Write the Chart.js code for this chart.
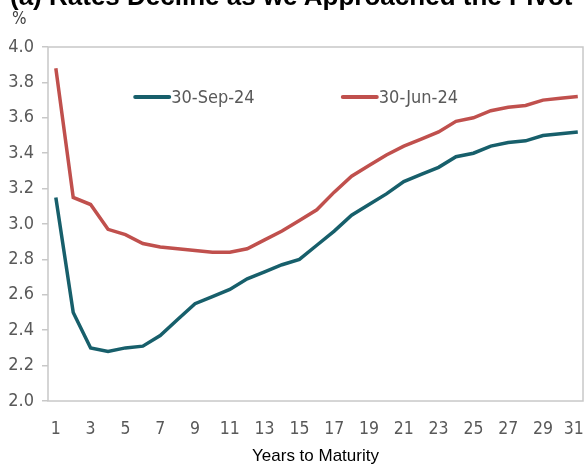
<!DOCTYPE html>
<html>
<head>
<meta charset="utf-8">
<script src="https://cdn.jsdelivr.net/npm/chart.js@4"></script>
<style>
  body { margin: 0; background: #fff; }
  #wrap { position: relative; width: 586px; height: 468px; overflow: hidden; }
  #title { position: absolute; left: 10px; top: -19px; font: bold 26px "Liberation Sans", Arial, sans-serif; color: #000; white-space: nowrap; }
  #unit { position: absolute; left: 12px; top: 8px; font: 17px "DejaVu Sans Condensed", "DejaVu Sans", sans-serif; color: #404040; }
  canvas { position: absolute; left: 0; top: 0; }
</style>
</head>
<body>
<div id="wrap">
  <canvas id="chart" width="586" height="468"></canvas>
  <div id="title">(a) Rates Decline as we Approached the Pivot</div>
  <div id="unit">%</div>
</div>
<script>
// Yield curve, years 1..31
const years = Array.from({ length: 31 }, (_, i) => i + 1);
const sep24 = [3.15, 2.50, 2.30, 2.28, 2.30, 2.31, 2.37, 2.46, 2.55, 2.59,
  2.63, 2.69, 2.73, 2.77, 2.80, 2.88, 2.96, 3.05, 3.11, 3.17,
  3.24, 3.28, 3.32, 3.38, 3.40, 3.44, 3.46, 3.47, 3.50, 3.51, 3.52];
const jun24 = [3.88, 3.15, 3.11, 2.97, 2.94, 2.89, 2.87, 2.86, 2.85, 2.84,
  2.84, 2.86, 2.91, 2.96, 3.02, 3.08, 3.18, 3.27, 3.33, 3.39,
  3.44, 3.48, 3.52, 3.58, 3.60, 3.64, 3.66, 3.67, 3.70, 3.71, 3.72];
const seriesNames = ['30-Sep-24', '30-Jun-24'];
const xTicks = years.filter((y) => y % 2 === 1);

const narrow = '"DejaVu Sans Condensed", "DejaVu Sans", sans-serif';

// frame round the plot area + legend drawn inside the plot
const framePlugin = {
  id: 'frame',
  afterDraw(chart) {
    const { ctx, chartArea: a } = chart;
    ctx.save();
    ctx.strokeStyle = '#c8c8c8';
    ctx.lineWidth = 1.5;
    ctx.strokeRect(a.left, a.top, a.right - a.left, a.bottom - a.top);

    const spots = [0.163, 0.551];
    ctx.font = '18px ' + narrow;
    ctx.textBaseline = 'middle';
    chart.data.datasets.forEach((ds, i) => {
      const x = a.left + (a.right - a.left) * spots[i];
      const y = a.top + 50;
      ctx.strokeStyle = ds.borderColor;
      ctx.lineWidth = 4;
      ctx.lineCap = 'round';
      ctx.beginPath();
      ctx.moveTo(x, y);
      ctx.lineTo(x + 34, y);
      ctx.stroke();
      ctx.fillStyle = '#595959';
      ctx.fillText(ds.label, x + 36, y + 1);
    });
    ctx.restore();
  }
};

const toPoints = (arr) => arr.map((v, i) => ({ x: years[i], y: v }));

new Chart(document.getElementById('chart'), {
  type: 'line',
  data: {
    datasets: [{
      label: seriesNames[0],
      data: toPoints(sep24),
      borderColor: '#175f6b',
      borderWidth: 3.5,
      pointRadius: 0,
      tension: 0,
    }, {
      label: seriesNames[1],
      data: toPoints(jun24),
      borderColor: '#c0504d',
      borderWidth: 3.5,
      pointRadius: 0,
      tension: 0,
    }],
  },
  options: {
    responsive: false,
    animation: false,
    layout: { padding: { top: 47, right: 3, left: 0, bottom: 0 } },
    plugins: { legend: { display: false }, tooltip: { enabled: false } },
    scales: {
      x: {
        type: 'linear',
        min: 0.55,
        max: 31.3,
        afterBuildTicks: (s) => { s.ticks = xTicks.map((v) => ({ value: v })); },
        afterFit: (s) => { s.height = 67; s.paddingLeft = 0; s.paddingRight = 0; },
        grid: { display: false, drawTicks: false },
        border: { display: false },
        ticks: {
          autoSkip: false,
          maxRotation: 0,
          padding: 18,
          color: '#595959',
          font: { size: 17.5, family: narrow },
          // last label nudged in so it stays inside the canvas
          callback: (v) => (v === years[years.length - 1] ? v + '\u2002' : String(v)),
        },
        title: {
          display: true,
          text: 'Years to Maturity',
          color: '#000',
          font: { size: 17, family: '"Liberation Sans", Arial, sans-serif' },
          padding: { top: 0, bottom: 1 },
        },
      },
      y: {
        min: 2.0,
        max: 4.0,
        afterFit: (s) => { s.width = 48; },
        grid: { drawOnChartArea: false, color: '#c8c8c8', tickLength: 6, lineWidth: 1.5 },
        border: { display: false },
        ticks: {
          stepSize: 0.2,
          padding: 8,
          color: '#595959',
          font: { size: 18, family: narrow },
          callback: (v) => v.toFixed(1),
        },
      },
    },
  },
  plugins: [framePlugin],
});
</script>
</body>
</html>
